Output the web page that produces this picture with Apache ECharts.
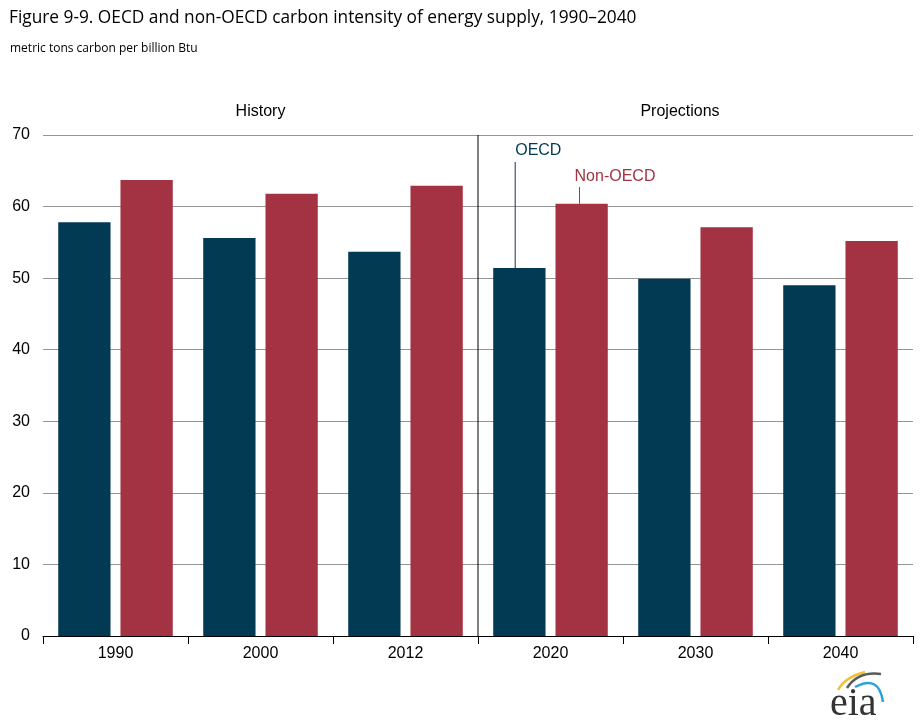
<!DOCTYPE html>
<html><head><meta charset="utf-8">
<script src="https://cdn.jsdelivr.net/npm/echarts@6/dist/echarts.min.js"></script>
<style>html,body{margin:0;padding:0;background:#fff}#c{width:920px;height:722px}</style>
</head><body><div id="c"></div>
<script>
const categories = ['1990','2000','2012','2020','2030','2040'];
const oecd = [57.8, 55.6, 53.7, 51.4, 49.9, 49.0];
const nonOecd = [63.7, 61.8, 62.9, 60.4, 57.1, 55.2];
const yTicks = {min: 0, max: 70, interval: 10};
const sections = ['History', 'Projections'];
const labelNames = ['OECD', 'Non-OECD'];

const C_OECD = '#023953';
const C_NON = '#A33343';
const AX = 'Liberation Sans, Arial, sans-serif';

const chart = echarts.init(document.getElementById('c'));
chart.setOption({
  animation: false,
  backgroundColor: '#fff',
  title: [
    {text: 'Figure 9-9. OECD and non-OECD carbon intensity of energy supply, 1990\u20132040',
     left: 4, top: 5, textStyle: {fontFamily: 'Open Sans, Noto Sans, sans-serif', fontSize: 17.3, fontWeight: 'normal', color: '#000'}},
    {text: 'metric tons carbon per billion Btu', left: 5, top: 38,
     textStyle: {fontFamily: 'Open Sans, Noto Sans, sans-serif', fontSize: 12, fontWeight: 'normal', color: '#000'}}
  ],
  grid: {left: 43, right: 7, top: 135, bottom: 86, containLabel: false},
  xAxis: [
    {type: 'category', data: categories,
     axisLine: {lineStyle: {color: '#000', width: 1}},
     axisTick: {show: true, length: 8, lineStyle: {color: '#000'}},
     axisLabel: {color: '#000', fontFamily: AX, fontSize: 16, margin: 10}},
    {type: 'value', min: 0, max: 6, show: false}
  ],
  yAxis: {type: 'value', min: yTicks.min, max: yTicks.max, interval: yTicks.interval,
    axisLine: {show: false}, axisTick: {show: false},
    axisLabel: {color: '#000', fontFamily: AX, fontSize: 16, margin: 13},
    splitLine: {lineStyle: {color: '#959595', width: 1}}},
  series: [
    {name: labelNames[0], type: 'bar', data: oecd, itemStyle: {color: C_OECD},
     barGap: '19%', barCategoryGap: '21%'},
    {name: labelNames[1], type: 'bar', data: nonOecd, itemStyle: {color: C_NON},
     barGap: '19%', barCategoryGap: '21%'},
    {type: 'line', xAxisIndex: 1, data: [[3, yTicks.min], [3, yTicks.max]], symbol: 'none',
     lineStyle: {color: '#000', width: 1}, silent: true, z: 5}
  ]
});

// annotations from the library's own bar layout
const m = chart.getModel();
const lo = m.getSeriesByIndex(0).getData().getItemLayout(3);
const ln = m.getSeriesByIndex(1).getData().getItemLayout(3);
const divX = chart.convertToPixel({xAxisIndex: 1}, 3);
const gl = chart.convertToPixel({xAxisIndex: 1}, 0);
const top70 = chart.convertToPixel({yAxisIndex: 0}, yTicks.max);
const xo = lo.x + lo.width * 0.42;
const xn = ln.x + ln.width * 0.46;
const yoTop = Math.min(lo.y, lo.y + lo.height);
const ynTop = Math.min(ln.y, ln.y + ln.height);
chart.setOption({graphic: [
  {type: 'text', x: (gl + divX) / 2, y: top70 - 23, style: {text: sections[0], font: '16px ' + AX, fill: '#000', align: 'center', verticalAlign: 'middle'}},
  {type: 'text', x: divX + 202, y: top70 - 23, style: {text: sections[1], font: '16px ' + AX, fill: '#000', align: 'center', verticalAlign: 'middle'}},
  {type: 'text', x: xo, y: 151, style: {text: labelNames[0], font: '16px ' + AX, fill: C_OECD, align: 'left', verticalAlign: 'middle'}},
  {type: 'line', shape: {x1: xo, y1: 162, x2: xo, y2: yoTop}, style: {stroke: C_OECD, lineWidth: 1}},
  {type: 'text', x: xn - 5, y: 177, style: {text: labelNames[1], font: '16px ' + AX, fill: C_NON, align: 'left', verticalAlign: 'middle'}},
  {type: 'line', shape: {x1: xn, y1: 187, x2: xn, y2: ynTop}, style: {stroke: C_NON, lineWidth: 1}},
  // eia logo
  {type: 'bezierCurve', shape: {x1: 838, y1: 690, cpx1: 845, cpy1: 677, x2: 865, y2: 672}, style: {stroke: '#F2C12E', lineWidth: 2.5, fill: null}},
  {type: 'bezierCurve', shape: {x1: 847, y1: 688, cpx1: 858, cpy1: 671, x2: 881, y2: 674}, style: {stroke: '#5a5a5a', lineWidth: 2.5, fill: null}},
  {type: 'bezierCurve', shape: {x1: 855, y1: 687, cpx1: 879, cpy1: 674, x2: 883, y2: 702}, style: {stroke: '#2AA3DB', lineWidth: 2.5, fill: null}},
  {type: 'text', x: 830, y: 704, style: {text: 'eia', font: '40px Liberation Serif, serif', fill: '#333', align: 'left', verticalAlign: 'middle'}}
]});
</script></body></html>
